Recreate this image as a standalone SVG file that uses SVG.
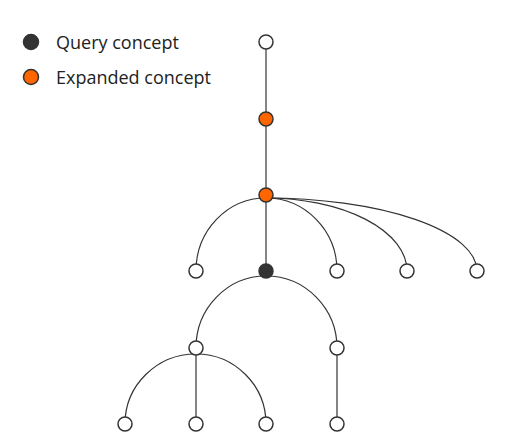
<svg xmlns="http://www.w3.org/2000/svg" width="506" height="446" viewBox="0 0 506 446">
<style>
.n{fill:#fff;stroke:#333;stroke-width:1.5}
.q{fill:#333;stroke:#333;stroke-width:1.5}
.e{fill:#ff6600;stroke:#333;stroke-width:1.5}
.l{fill:none;stroke:#333;stroke-width:1.2}
.t{font-family:"Open Sans","Liberation Sans",sans-serif;font-size:18px;fill:#222}
</style>
<rect width="506" height="446" fill="#fff"/>
<g id="legend">
<circle class="q" cx="31" cy="42" r="7.5"/>
<text class="t" x="56" y="49">Query concept</text>
<circle class="e" cx="31" cy="77" r="7.5"/>
<text class="t" x="56" y="84">Expanded concept</text>
</g>
<g id="connectors">
<path class="l" d="M266,42V271"/>
<path class="l" d="M196,271A70,73 0 0 1 266,198"/>
<path class="l" d="M337,271A71,73 0 0 0 266,198"/>
<path class="l" d="M407,271A141,73 0 0 0 266,198"/>
<path class="l" d="M477,271A211,73 0 0 0 266,198"/>
<path class="l" d="M196,348A70,72 0 0 1 266,276"/>
<path class="l" d="M337,348A71,72 0 0 0 266,276"/>
<path class="l" d="M196,348V424"/>
<path class="l" d="M337,348V424"/>
<path class="l" d="M125,424A71,70 0 0 1 196,354"/>
<path class="l" d="M266,424A70,70 0 0 0 196,354"/>
</g>
<g id="n1"><circle class="n" cx="266" cy="42" r="7"/></g>
<g id="n2"><circle class="e" cx="266" cy="119" r="7"/></g>
<g id="n3"><circle class="e" cx="266" cy="195" r="7"/></g>
<g id="n4"><circle class="n" cx="196" cy="271" r="7"/></g>
<g id="n5"><circle class="q" cx="266" cy="271" r="7"/></g>
<g id="n6"><circle class="n" cx="337" cy="271" r="7"/></g>
<g id="n7"><circle class="n" cx="407" cy="271" r="7"/></g>
<g id="n8"><circle class="n" cx="477" cy="271" r="7"/></g>
<g id="n9"><circle class="n" cx="196" cy="348" r="7"/></g>
<g id="n10"><circle class="n" cx="337" cy="348" r="7"/></g>
<g id="n11"><circle class="n" cx="125" cy="424" r="7"/></g>
<g id="n12"><circle class="n" cx="196" cy="424" r="7"/></g>
<g id="n13"><circle class="n" cx="266" cy="424" r="7"/></g>
<g id="n14"><circle class="n" cx="337" cy="424" r="7"/></g>
</svg>
